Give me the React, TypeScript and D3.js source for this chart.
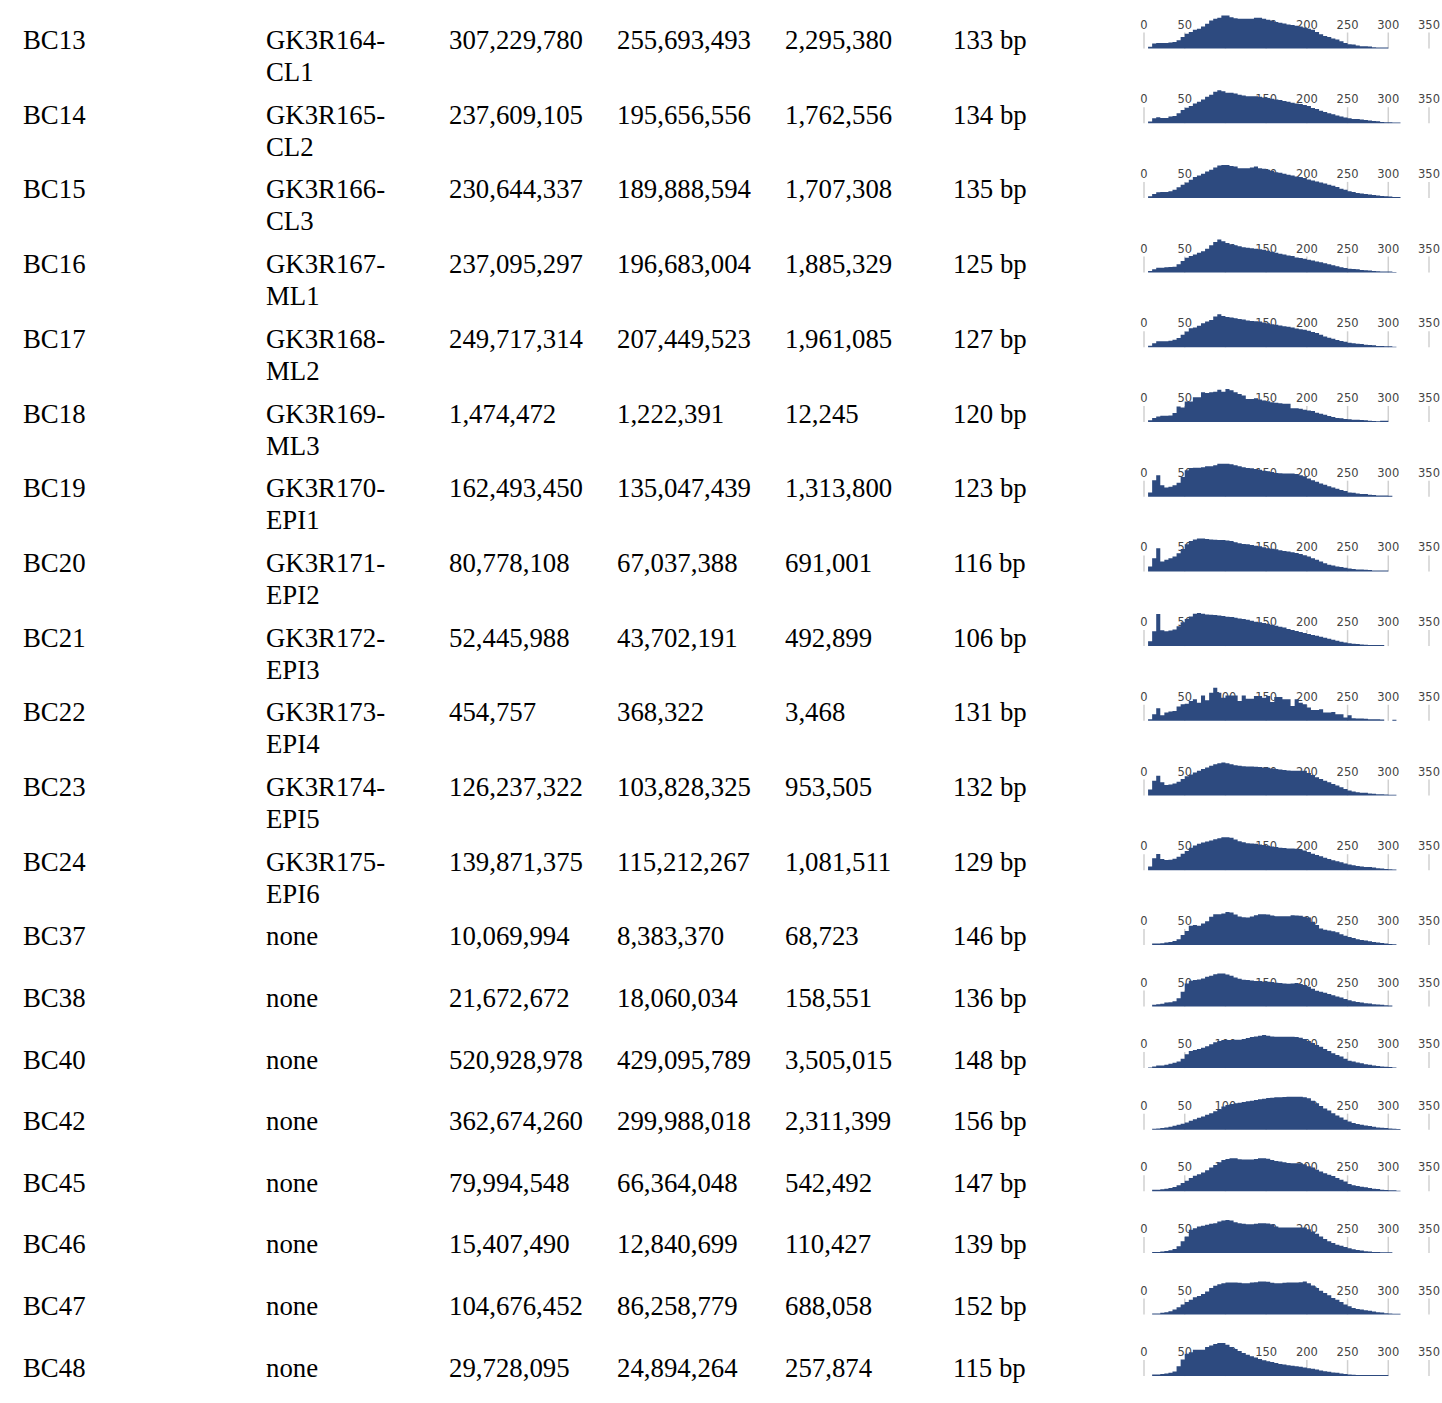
import React from "react";
import * as d3 from "d3";

// table columns
const samples = ["BC13", "BC14", "BC15", "BC16", "BC17", "BC18", "BC19", "BC20", "BC21", "BC22", "BC23", "BC24", "BC37", "BC38", "BC40", "BC42", "BC45", "BC46", "BC47", "BC48"];
const libraries = ["GK3R164-CL1", "GK3R165-CL2", "GK3R166-CL3", "GK3R167-ML1", "GK3R168-ML2", "GK3R169-ML3", "GK3R170-EPI1", "GK3R171-EPI2", "GK3R172-EPI3", "GK3R173-EPI4", "GK3R174-EPI5", "GK3R175-EPI6", "none", "none", "none", "none", "none", "none", "none", "none"];
const totalReads = [307229780, 237609105, 230644337, 237095297, 249717314, 1474472, 162493450, 80778108, 52445988, 454757, 126237322, 139871375, 10069994, 21672672, 520928978, 362674260, 79994548, 15407490, 104676452, 29728095];
const mappedReads = [255693493, 195656556, 189888594, 196683004, 207449523, 1222391, 135047439, 67037388, 43702191, 368322, 103828325, 115212267, 8383370, 18060034, 429095789, 299988018, 66364048, 12840699, 86258779, 24894264];
const uniqueReads = [2295380, 1762556, 1707308, 1885329, 1961085, 12245, 1313800, 691001, 492899, 3468, 953505, 1081511, 68723, 158551, 3505015, 2311399, 542492, 110427, 688058, 257874];
const meanLength = [133, 134, 135, 125, 127, 120, 123, 116, 106, 131, 132, 129, 146, 136, 148, 156, 147, 139, 152, 115];

// fragment length histograms, 5 bp bins starting at 5 bp (relative counts)
const histBC13 = [5, 15, 17, 17, 17, 18, 20, 25, 35, 45, 50, 57, 60, 67, 75, 85, 90, 93, 100, 100, 95, 92, 90, 90, 90, 90, 93, 93, 90, 87, 85, 80, 78, 76, 73, 71, 69, 67, 64, 60, 57, 50, 43, 38, 35, 30, 27, 22, 17, 13, 12, 9, 7, 7, 6, 4, 3, 3, 3];
const histBC14 = [5, 15, 18, 16, 16, 20, 22, 30, 40, 47, 52, 60, 65, 72, 80, 86, 95, 100, 97, 92, 92, 90, 86, 84, 82, 82, 82, 80, 78, 76, 74, 72, 70, 67, 65, 62, 60, 58, 55, 52, 46, 43, 38, 34, 30, 27, 23, 20, 17, 15, 13, 13, 11, 10, 8, 7, 6, 4, 3, 3, 2, 2];
const histBC15 = [5, 12, 17, 18, 18, 20, 25, 32, 40, 47, 55, 63, 68, 73, 80, 85, 92, 98, 100, 100, 97, 95, 90, 90, 90, 92, 95, 90, 88, 85, 82, 78, 76, 73, 70, 68, 65, 63, 60, 56, 53, 50, 47, 44, 40, 37, 33, 28, 25, 20, 18, 15, 13, 12, 10, 9, 7, 6, 5, 4, 3, 3];
const histBC16 = [5, 10, 15, 15, 16, 17, 18, 25, 35, 45, 50, 55, 60, 65, 72, 83, 93, 100, 95, 90, 86, 83, 80, 77, 75, 74, 72, 71, 69, 66, 63, 60, 57, 55, 52, 50, 46, 44, 42, 39, 37, 34, 31, 28, 25, 22, 19, 16, 14, 12, 11, 10, 8, 7, 6, 5, 4, 3, 3, 3, 2];
const histBC17 = [5, 12, 18, 18, 18, 20, 23, 28, 38, 48, 58, 60, 65, 73, 78, 83, 93, 100, 95, 92, 90, 88, 86, 84, 81, 80, 79, 78, 75, 73, 70, 68, 66, 64, 62, 60, 57, 55, 53, 50, 46, 43, 38, 33, 29, 26, 22, 19, 17, 14, 12, 11, 10, 8, 7, 6, 4, 4, 3, 3, 2];
const histBC18 = [5, 12, 17, 19, 19, 20, 27, 47, 44, 62, 62, 75, 75, 90, 88, 90, 92, 98, 92, 100, 96, 90, 85, 80, 70, 70, 72, 68, 65, 63, 60, 58, 57, 55, 55, 42, 42, 40, 37, 35, 33, 28, 25, 22, 18, 15, 12, 11, 9, 8, 7, 7, 6, 5, 4, 3, 2, 4, 4];
const histBC19 = [13, 50, 65, 35, 28, 30, 35, 42, 60, 80, 87, 88, 88, 89, 92, 92, 95, 100, 100, 100, 98, 95, 92, 89, 87, 86, 84, 82, 79, 77, 75, 72, 71, 70, 70, 70, 69, 65, 62, 55, 50, 45, 40, 36, 32, 28, 24, 20, 17, 13, 12, 10, 8, 8, 6, 5, 4, 4, 4, 3];
const histBC20 = [15, 40, 70, 30, 35, 40, 45, 55, 68, 82, 92, 97, 100, 100, 98, 97, 96, 95, 95, 94, 92, 88, 85, 83, 82, 80, 78, 76, 73, 70, 69, 67, 64, 62, 60, 58, 56, 53, 49, 45, 40, 35, 30, 25, 20, 18, 15, 13, 11, 9, 7, 6, 6, 5, 4, 3, 3, 3, 3];
const histBC21 = [15, 45, 97, 48, 45, 47, 50, 60, 72, 82, 90, 98, 100, 98, 96, 95, 94, 93, 91, 89, 88, 86, 84, 82, 80, 77, 74, 72, 70, 68, 65, 62, 59, 56, 52, 49, 46, 43, 40, 37, 34, 31, 28, 25, 22, 19, 16, 13, 11, 9, 7, 6, 5, 4, 3, 3, 3, 3];
const histBC22 = [5, 20, 38, 17, 25, 28, 30, 43, 50, 52, 60, 65, 55, 77, 62, 85, 100, 85, 70, 77, 77, 77, 60, 77, 67, 67, 75, 75, 70, 75, 57, 72, 72, 65, 65, 45, 65, 55, 50, 40, 33, 33, 35, 25, 25, 27, 20, 20, 10, 17, 8, 7, 7, 6, 5, 5, 5, 4, 0, 0, 3];
const histBC23 = [18, 45, 60, 40, 32, 33, 36, 42, 50, 58, 64, 70, 75, 80, 85, 90, 95, 98, 100, 98, 95, 92, 90, 89, 88, 88, 87, 86, 85, 84, 82, 80, 79, 77, 76, 75, 75, 75, 75, 68, 62, 55, 50, 45, 40, 35, 30, 25, 20, 15, 12, 10, 8, 8, 6, 5, 4, 4, 3, 2, 2];
const histBC24 = [11, 36, 49, 34, 31, 32, 35, 41, 50, 58, 68, 75, 80, 84, 87, 90, 94, 97, 100, 100, 98, 93, 88, 85, 82, 81, 80, 78, 76, 74, 72, 70, 68, 67, 66, 66, 65, 62, 60, 55, 50, 46, 42, 38, 34, 30, 27, 24, 20, 17, 15, 13, 11, 10, 10, 8, 6, 5, 4, 3, 2];
const histBC37 = [0, 4, 4, 5, 7, 9, 12, 17, 30, 42, 58, 60, 58, 65, 72, 85, 93, 93, 95, 100, 98, 92, 86, 84, 83, 86, 90, 93, 93, 92, 89, 87, 87, 87, 87, 90, 89, 88, 85, 83, 70, 60, 50, 46, 44, 41, 38, 32, 28, 24, 21, 17, 15, 13, 11, 9, 7, 6, 4, 3, 2];
const histBC38 = [0, 5, 7, 8, 12, 13, 16, 25, 45, 70, 78, 80, 82, 85, 90, 93, 98, 100, 100, 97, 93, 88, 84, 81, 80, 79, 77, 77, 76, 75, 74, 72, 71, 70, 69, 70, 71, 68, 65, 60, 54, 48, 45, 42, 38, 34, 30, 27, 23, 19, 16, 14, 12, 10, 9, 7, 6, 5, 4, 3];
const histBC40 = [2, 5, 8, 8, 10, 13, 16, 20, 28, 42, 52, 55, 58, 62, 66, 72, 78, 82, 85, 85, 85, 86, 86, 88, 91, 94, 96, 98, 100, 98, 96, 95, 95, 95, 95, 95, 94, 92, 88, 82, 76, 70, 65, 58, 52, 45, 40, 35, 28, 22, 20, 17, 15, 12, 10, 8, 6, 5, 4, 3, 2];
const histBC42 = [0, 3, 4, 5, 7, 9, 12, 15, 18, 22, 27, 32, 36, 40, 45, 50, 56, 62, 70, 75, 78, 80, 82, 84, 86, 88, 90, 92, 94, 96, 97, 98, 98, 99, 100, 100, 100, 100, 98, 95, 88, 80, 72, 64, 58, 50, 43, 37, 30, 25, 20, 17, 15, 13, 11, 9, 7, 6, 5, 4, 3, 2];
const histBC45 = [0, 5, 5, 6, 8, 10, 13, 18, 25, 32, 40, 47, 52, 57, 64, 72, 80, 88, 95, 98, 100, 100, 97, 96, 96, 96, 98, 100, 100, 99, 95, 92, 90, 88, 86, 85, 85, 85, 82, 76, 72, 65, 60, 55, 50, 46, 40, 35, 30, 22, 18, 16, 14, 12, 10, 8, 7, 5, 4, 3, 3, 2];
const histBC46 = [0, 3, 3, 4, 6, 8, 12, 20, 35, 50, 70, 75, 80, 82, 85, 88, 90, 95, 98, 100, 98, 93, 90, 88, 87, 87, 88, 90, 90, 89, 87, 80, 77, 77, 77, 77, 77, 77, 77, 72, 65, 58, 50, 42, 35, 30, 25, 22, 18, 14, 11, 9, 7, 5, 4, 3, 3, 2, 2, 2];
const histBC47 = [0, 3, 3, 5, 7, 10, 15, 22, 30, 38, 45, 52, 56, 62, 70, 80, 87, 92, 95, 97, 97, 97, 96, 95, 95, 97, 98, 100, 100, 99, 96, 95, 95, 96, 97, 97, 97, 98, 100, 95, 88, 80, 72, 65, 58, 50, 45, 38, 30, 25, 20, 17, 15, 13, 11, 9, 7, 6, 4, 3, 2, 2];
const histBC48 = [0, 5, 5, 6, 8, 10, 14, 30, 50, 68, 72, 80, 80, 80, 88, 93, 97, 100, 100, 95, 88, 82, 76, 70, 65, 60, 56, 52, 48, 45, 43, 40, 37, 35, 33, 31, 30, 28, 26, 24, 22, 20, 17, 15, 13, 11, 10, 8, 6, 5, 4, 3, 3, 3, 3, 3, 3, 3, 3];
const histograms = [histBC13, histBC14, histBC15, histBC16, histBC17, histBC18, histBC19, histBC20, histBC21, histBC22, histBC23, histBC24, histBC37, histBC38, histBC40, histBC42, histBC45, histBC46, histBC47, histBC48];

const axisTicks = [0, 50, 100, 150, 200, 250, 300, 350];
const binStart = 5;
const binWidth = 5;

const W = 1442;
const H = 1403;
const colX = [23, 266, 449, 617, 785, 953];
const fmt = d3.format(",");

export default function App() {
  // row centres: two-line rows are taller than single-line ones
  const rowY: number[] = [];
  let yy = 40;
  libraries.forEach((lib) => {
    rowY.push(yy);
    yy += lib.includes("-") ? 74.7 : 61.6;
  });

  const x = d3.scaleLinear().domain([0, 350]).range([1144, 1429]);
  const histH = 33;

  return (
    <svg width={W} height={H} style={{ position: "absolute", left: 0, top: 0, background: "#fff" }}>
      {samples.map((s, i) => {
        const cy = rowY[i];
        const base = cy + 8.5;
        const lib = libraries[i];
        const dash = lib.indexOf("-");
        const textStyle = { fontFamily: "'Liberation Serif', serif", fontSize: 26.8, fill: "#000" };

        const vals = histograms[i];
        const y = d3.scaleLinear().domain([0, d3.max(vals) as number]).range([base, base - histH]);
        const pts = vals.map((v, k) => ({ b: binStart + k * binWidth, v }));
        pts.push({ b: binStart + vals.length * binWidth, v: vals[vals.length - 1] });
        const area = d3
          .area<{ b: number; v: number }>()
          .x((d) => x(d.b))
          .y0(base)
          .y1((d) => y(d.v))
          .curve(d3.curveStepAfter);

        return (
          <g key={s}>
            <text x={colX[0]} y={cy + 9} style={textStyle}>{s}</text>
            {dash >= 0 ? (
              <text style={textStyle}>
                <tspan x={colX[1]} y={cy + 9}>{lib.slice(0, dash + 1)}</tspan>
                <tspan x={colX[1]} y={cy + 41}>{lib.slice(dash + 1)}</tspan>
              </text>
            ) : (
              <text x={colX[1]} y={cy + 9} style={textStyle}>{lib}</text>
            )}
            <text x={colX[2]} y={cy + 9} style={textStyle}>{fmt(totalReads[i])}</text>
            <text x={colX[3]} y={cy + 9} style={textStyle}>{fmt(mappedReads[i])}</text>
            <text x={colX[4]} y={cy + 9} style={textStyle}>{fmt(uniqueReads[i])}</text>
            <text x={colX[5]} y={cy + 9} style={textStyle}>{meanLength[i] + " bp"}</text>

            {axisTicks.map((t) => (
              <g key={t}>
                <line x1={x(t)} x2={x(t)} y1={base - 16} y2={base} stroke="#d0d0d0" strokeWidth={1.5} />
                <text
                  x={x(t)}
                  y={base - 20}
                  textAnchor="middle"
                  style={{ fontFamily: "'DejaVu Sans', sans-serif", fontSize: 11.5, fill: "#444" }}
                >
                  {t}
                </text>
              </g>
            ))}
            <path d={area(pts) || ""} fill="#2d4a7f" />
          </g>
        );
      })}
    </svg>
  );
}
